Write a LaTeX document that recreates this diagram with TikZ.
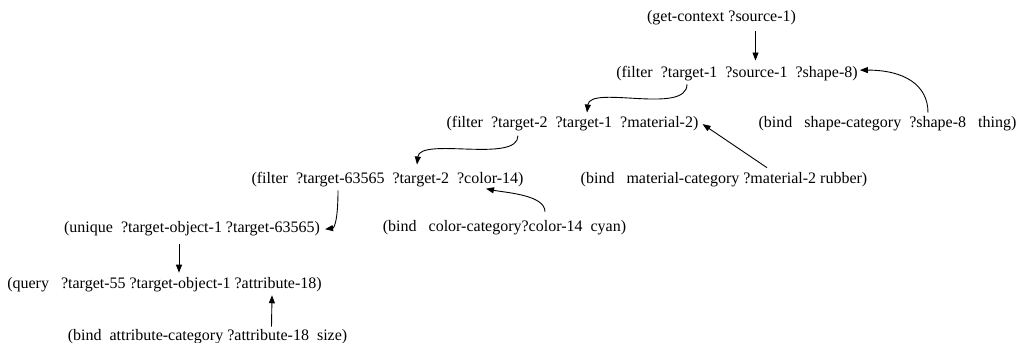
\documentclass[tikz,border=0pt]{standalone}
\usepackage{fontspec}
\setmainfont{Liberation Serif}
\usetikzlibrary{arrows.meta}
\tikzset{
  lbl/.style={inner sep=0pt, anchor=base, font=\fontsize{16}{19}\selectfont},
  arr/.style={line width=0.9pt, -{Triangle[length=8pt,width=6pt]}}
}
\begin{document}
\begin{tikzpicture}[x=1pt,y=-1pt]
\useasboundingbox (0,0) rectangle (1021,343);
\node[lbl] (gc) at (721.5,21.5) {(get-context ?source-1)};
\node[lbl] (f1) at (737,77) {(filter~~?target-1~~?source-1~~?shape-8)};
\node[lbl] (bs) at (887.5,127) {(bind~~~shape-category~~?shape-8~~~thing)};
\node[lbl] (f2) at (572.5,127) {(filter~~?target-2~~?target-1~~?material-2)};
\node[lbl] (bm) at (724,183) {(bind~~~material-category ?material-2 rubber)};
\node[lbl] (f3) at (387.5,183) {(filter~~?target-63565~~?target-2~~?color-14)};
\node[lbl] (bc) at (504.5,231) {(bind~~~color-category?color-14~~cyan)};
\node[lbl] (u) at (192,232) {(unique~~?target-object-1 ?target-63565)};
\node[lbl] (q) at (164.5,288) {(query~~~?target-55 ?target-object-1 ?attribute-18)};
\node[lbl] (ba) at (207.5,340) {(bind~~attribute-category ?attribute-18~~size)};

\draw[arr] ([xshift=34pt,yshift=-6pt]gc.south) -- ([xshift=18.5pt,yshift=5pt]f1.north);
\draw[arr] ([xshift=40.5pt,yshift=3pt]bs.north) .. controls +(0,28pt) and +(44pt,0) .. ([xshift=2pt,yshift=3pt]f1.east);
\draw[arr] ([xshift=-50pt,yshift=-3.6pt]f1.south) .. controls +(0,-31pt) and +(3pt,28pt) .. ([xshift=14.5pt,yshift=3pt]f2.north);
\draw[arr] ([xshift=43pt,yshift=4pt]bm.north) -- ([xshift=4pt,yshift=-1pt]f2.east);
\draw[arr] ([xshift=-54.5pt,yshift=-5pt]f2.south) .. controls +(0,-28pt) and +(3pt,28pt) .. ([xshift=29.5pt,yshift=7pt]f3.north);
\draw[arr] ([xshift=40.5pt,yshift=8pt]bc.north) .. controls +(0,17pt) and +(19pt,-4pt) .. ([xshift=98.5pt,yshift=-2pt]f3.south);
\draw[arr] ([xshift=-49.5pt,yshift=-3.6pt]f3.south) .. controls +(0,-35pt) and +(8pt,1pt) .. ([xshift=5pt,yshift=-1pt]u.east);
\draw[arr] ([xshift=-13pt,yshift=-8pt]u.south) -- ([xshift=14.5pt,yshift=4pt]q.north);
\draw[arr] ([xshift=64pt,yshift=2pt]ba.north) -- ([xshift=107.5pt,yshift=-3.6pt]q.south);
\end{tikzpicture}
\end{document}
